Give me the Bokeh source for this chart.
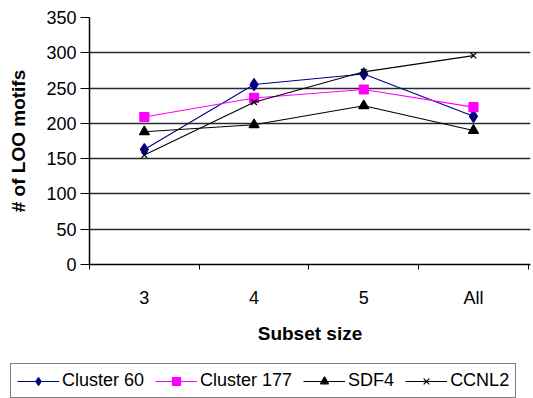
from bokeh.plotting import figure
from bokeh.models import FixedTicker, Range1d, Legend, LegendItem
from bokeh.embed import file_html
from bokeh.resources import INLINE

categories = ["3", "4", "5", "All"]
cluster60 = [163, 255, 270, 210]
cluster177 = [209, 236, 248, 223]
sdf4 = [188, 198, 225, 190]
ccnl2 = [155, 230, 273, 296]
y_ticks = [0, 50, 100, 150, 200, 250, 300, 350]

xs = [i + 0.5 for i in range(len(categories))]

FONT = "Liberation Sans"

p = figure(width=533, height=363, output_backend="svg", toolbar_location=None,
           x_range=Range1d(0, len(categories) + 0.02), y_range=Range1d(0, 350),
           min_border_left=89, min_border_right=3, min_border_top=17, min_border_bottom=99)
p.outline_line_color = None
p.background_fill_color = "white"
p.border_fill_color = "white"

# axes
p.xaxis.ticker = FixedTicker(ticks=xs, minor_ticks=list(range(len(categories) + 1)))
p.xaxis.major_label_overrides = {x: c for x, c in zip(xs, categories)}
p.xaxis.major_tick_out = 0
p.xaxis.major_tick_in = 0
p.xaxis.minor_tick_out = 5
p.xaxis.minor_tick_in = 0
p.xaxis.major_label_standoff = 18
p.xaxis.axis_label = "Subset size"
p.xaxis.axis_label_standoff = 12

p.yaxis.ticker = FixedTicker(ticks=y_ticks, minor_ticks=[])
p.yaxis.major_tick_out = 9
p.yaxis.major_tick_in = 0
p.yaxis.major_label_standoff = 4
p.yaxis.axis_label = "# of LOO motifs"
p.yaxis.axis_label_standoff = 14

for ax in (p.xaxis[0], p.yaxis[0]):
    ax.axis_line_color = "black"
    ax.axis_line_width = 1.5
    ax.major_tick_line_color = "black"
    ax.minor_tick_line_color = "black"
    ax.major_label_text_font = FONT
    ax.major_label_text_font_size = "18px"
    ax.major_label_text_color = "black"
    ax.axis_label_text_font = FONT
    ax.axis_label_text_font_size = "19px"
    ax.axis_label_text_font_style = "bold"
    ax.axis_label_text_color = "black"

p.xgrid.grid_line_color = None
p.ygrid.grid_line_color = "#2a2a2a"
p.ygrid.grid_line_width = 1.3

series = [
    ("Cluster 60", cluster60, "#000080", "diamond", 12, 9),
    ("Cluster 177", cluster177, "#FF00FF", "square", 9, 7),
    ("SDF4", sdf4, "black", "triangle", 10, 8),
    ("CCNL2", ccnl2, "black", "x", 8, 6),
]

for name, vals, color, marker, size, _ in series:
    p.line(xs, vals, line_color=color, line_width=1.1)
    p.scatter(xs, vals, marker=marker, size=size, fill_color=color,
              line_color=color, line_width=1.2)

# legend strip below the chart (same series, drawn outside its visible range)
lg = figure(width=533, height=35, output_backend="svg", toolbar_location=None,
            x_range=Range1d(1000, 1001), y_range=Range1d(1000, 1001),
            x_axis_type=None, y_axis_type=None,
            min_border_left=0, min_border_right=0, min_border_top=0, min_border_bottom=0)
lg.outline_line_color = None
lg.xgrid.grid_line_color = None
lg.ygrid.grid_line_color = None
lg.border_fill_color = "white"

items = []
for name, vals, color, marker, size, lsize in series:
    r1 = lg.line(xs, vals, line_color=color, line_width=1.2)
    r2 = lg.scatter(xs, vals, marker=marker, size=lsize, fill_color=color,
                    line_color=color, line_width=1.2)
    items.append(LegendItem(label=name, renderers=[r1, r2]))

legend = Legend(items=items, orientation="horizontal", location=(10, 0))
legend.border_line_color = "black"
legend.border_line_width = 1.5
legend.label_text_font = FONT
legend.label_text_font_size = "18px"
legend.label_text_color = "black"
legend.glyph_width = 42
legend.glyph_height = 20
legend.label_standoff = 3
legend.spacing = 11
legend.padding = 6
legend.margin = 0
legend.background_fill_color = "white"
lg.add_layout(legend, "center")

open("out.html", "w").write(file_html([p, lg], INLINE))
